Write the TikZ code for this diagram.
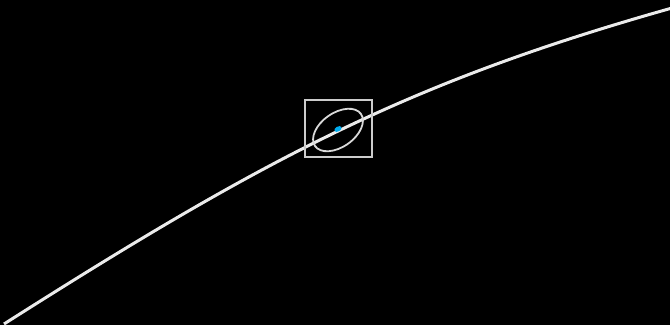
\documentclass[tikz,border=0pt]{standalone}
\begin{document}
\begin{tikzpicture}[x=1pt,y=-1pt,
  curve/.style={draw=white!92!black,line width=3pt},
  frame/.style={draw=white!80!black,line width=1.5pt},
  ring/.style={draw=white!85!black,line width=1.8pt}]
\fill[black] (0,0) rectangle (670,325);
\useasboundingbox (0,0) rectangle (670,325);
\coordinate (s) at (4,324);
\coordinate (e) at (672,8);
\draw[curve] (s) .. controls (270,155) and (410,82) .. (e);
\node[frame,minimum width=67pt,minimum height=57pt,inner sep=0pt] (box) at (338.5,128.5) {};
\draw[ring,rotate around={35:(338,130)}] (338,130) ellipse [x radius=28, y radius=17];
\fill[cyan,rotate around={30:(338,129)}] (338,129) ellipse [x radius=4, y radius=2.4];
\end{tikzpicture}
\end{document}
